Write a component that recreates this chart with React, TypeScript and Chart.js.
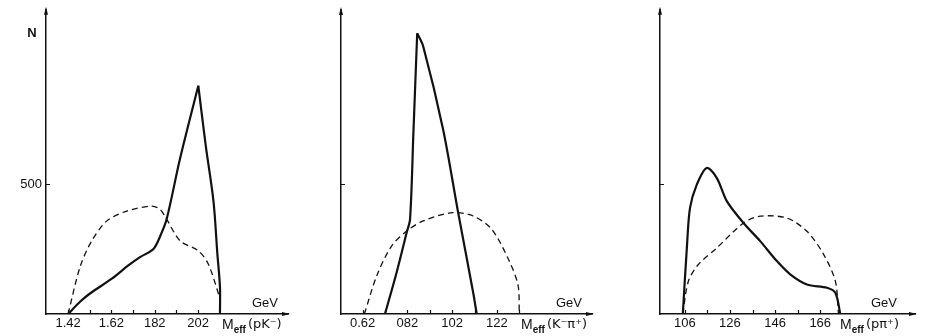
import React, { useEffect, useRef } from "react";
import { Chart, registerables } from "chart.js";
Chart.register(...registerables);

// ---------- Data ----------
// Panel 1: M_eff(pK-)
const PK_TICKS = [1.42, 1.52, 1.62, 1.72, 1.82, 1.92, 2.02];
const PK_TICK_LABELS = ["1.42", "", "1.62", "", "182", "", "202"];
const PK_SOLID_X = [1.42, 1.475, 1.521, 1.622, 1.698, 1.752, 1.814, 1.845, 1.875, 1.937, 2.021, 2.055, 2.091, 2.109, 2.121, 2.121];
const PK_SOLID_Y = [0, 47, 79, 136, 187, 219, 251, 300, 366, 600, 880, 651, 435, 232, 104, 0];
const PK_DASH_X = [1.42, 1.475, 1.529, 1.599, 1.691, 1.806, 1.845, 1.875, 1.937, 2.021, 2.067, 2.121];
const PK_DASH_Y = [0, 181, 282, 359, 397, 416, 403, 365, 282, 244, 193, 60];

// Panel 2: M_eff(K-pi+)
const KPI_TICKS = [0.62, 0.72, 0.82, 0.92, 1.02, 1.12, 1.22, 1.32];
const KPI_TICK_LABELS = ["0.62", "", "082", "", "102", "", "122", ""];
const KPI_SOLID_X = [0.72, 0.772, 0.817, 0.832, 0.847, 0.864, 0.891, 0.98, 1.047, 1.114, 1.13];
const KPI_SOLID_Y = [0, 160, 314, 365, 699, 1083, 1032, 711, 391, 83, 0];
const KPI_DASH_X = [0.628, 0.683, 0.75, 0.817, 0.891, 1.021, 1.114, 1.197, 1.278, 1.315, 1.32];
const KPI_DASH_Y = [0, 147, 263, 320, 359, 391, 378, 327, 199, 109, 0];

// Panel 3: M_eff(p pi+)
const PPI_TICKS = [1.06, 1.16, 1.26, 1.36, 1.46, 1.56, 1.66];
const PPI_TICK_LABELS = ["106", "", "126", "", "146", "", "166"];
const PPI_SOLID_X = [1.051, 1.069, 1.083, 1.113, 1.157, 1.202, 1.246, 1.32, 1.394, 1.468, 1.527, 1.601, 1.69, 1.727, 1.749];
const PPI_SOLID_Y = [0, 255, 409, 499, 563, 524, 435, 351, 281, 204, 153, 114, 101, 82, 0];
const PPI_DASH_X = [1.051, 1.076, 1.12, 1.202, 1.32, 1.394, 1.512, 1.601, 1.675, 1.727, 1.741];
const PPI_DASH_Y = [0, 127, 191, 255, 351, 377, 370, 319, 230, 127, 0];

const Y_TICKS = [500];
const Y_MAX = 1165;

type PanelCfg = {
  left: number;
  width: number;
  padTop: number;
  padRight: number;
  yAxisWidth: number;
  xMin: number;
  xMax: number;
  ticks: number[];
  labels: string[];
  solidX: number[];
  solidY: number[];
  dashX: number[];
  dashY: number[];
  sharp: boolean;
  yLabel: boolean;
  showN: boolean;
  particles: string;
  gevX: number;
  mX: number;
};

const PANELS: PanelCfg[] = [
  {
    left: 0, width: 310, padTop: 9, padRight: 22, yAxisWidth: 46,
    xMin: 1.318, xMax: 2.435, ticks: PK_TICKS, labels: PK_TICK_LABELS,
    solidX: PK_SOLID_X, solidY: PK_SOLID_Y, dashX: PK_DASH_X, dashY: PK_DASH_Y,
    sharp: true, yLabel: true, showN: true, particles: "(pK\u207B)", gevX: 265, mX: 222,
  },
  {
    left: 310, width: 310, padTop: 12, padRight: 28, yAxisWidth: 31,
    xMin: 0.5235, xMax: 1.645, ticks: KPI_TICKS, labels: KPI_TICK_LABELS,
    solidX: KPI_SOLID_X, solidY: KPI_SOLID_Y, dashX: KPI_DASH_X, dashY: KPI_DASH_Y,
    sharp: true, yLabel: false, showN: false, particles: "(K\u207B\u03C0\u207A)", gevX: 259, mX: 211,
  },
  {
    left: 620, width: 309, padTop: 10, padRight: 14, yAxisWidth: 40,
    xMin: 0.95, xMax: 2.08, ticks: PPI_TICKS, labels: PPI_TICK_LABELS,
    solidX: PPI_SOLID_X, solidY: PPI_SOLID_Y, dashX: PPI_DASH_X, dashY: PPI_DASH_Y,
    sharp: false, yLabel: false, showN: false, particles: "(p\u03C0\u207A)", gevX: 264, mX: 220,
  },
];

const INK = "#111111";
const FONT = "'Liberation Sans', Arial, sans-serif";
const FONT_WIDE = "'DejaVu Sans', sans-serif";

function toPoints(xs: number[], ys: number[]) {
  return xs.map((x, i) => ({ x, y: ys[i] }));
}

function splitAtPeak(xs: number[], ys: number[], sharp: boolean) {
  const pts = toPoints(xs, ys);
  if (!sharp) return [pts];
  let k = 0;
  ys.forEach((v, i) => { if (v > ys[k]) k = i; });
  return [pts.slice(0, k + 1), pts.slice(k)];
}

function makeDecor(cfg: PanelCfg) {
  return {
    id: "decor",
    afterDraw(chart: any) {
      const { ctx, chartArea } = chart;
      const { left, right, top, bottom } = chartArea;
      const xs = chart.scales.x;
      const ys = chart.scales.y;
      ctx.save();
      ctx.fillStyle = INK;
      ctx.strokeStyle = INK;
      // inward tick marks on the x axis
      ctx.lineWidth = 1.2;
      ctx.beginPath();
      cfg.ticks.forEach((v) => {
        const px = Math.round(xs.getPixelForValue(v)) + 0.5;
        ctx.moveTo(px, bottom);
        ctx.lineTo(px, bottom - 4);
      });
      // inward tick marks on the y axis
      Y_TICKS.forEach((v) => {
        const py = Math.round(ys.getPixelForValue(v)) + 0.5;
        ctx.moveTo(left, py);
        ctx.lineTo(left + 4, py);
      });
      ctx.stroke();
      // y axis extension + arrow
      ctx.lineWidth = 1.3;
      ctx.beginPath();
      ctx.moveTo(left, top + 2);
      ctx.lineTo(left, top - 3);
      ctx.stroke();
      ctx.beginPath();
      ctx.moveTo(left, top - 5);
      ctx.lineTo(left - 2, top + 3);
      ctx.lineTo(left + 2, top + 3);
      ctx.closePath();
      ctx.fill();
      // x axis arrow
      ctx.beginPath();
      ctx.moveTo(right + 2, bottom);
      ctx.lineTo(right - 6, bottom - 2);
      ctx.lineTo(right - 6, bottom + 2);
      ctx.closePath();
      ctx.fill();
      // texts
      ctx.textBaseline = "alphabetic";
      if (cfg.showN) {
        ctx.font = `bold 13px ${FONT}`;
        ctx.textAlign = "center";
        ctx.fillText("N", 32, 37);
      }
      ctx.font = `13px ${FONT}`;
      ctx.textAlign = "center";
      ctx.fillText("GeV", cfg.gevX, 307);
      ctx.textAlign = "left";
      ctx.font = `14px ${FONT}`;
      let x = cfg.mX;
      ctx.fillText("M", x, 329);
      x += ctx.measureText("M").width;
      ctx.font = `bold 10px ${FONT}`;
      ctx.fillText("eff", x, 333);
      x += ctx.measureText("eff").width + 2;
      ctx.font = `13px ${FONT_WIDE}`;
      ctx.fillText(cfg.particles, x, 328);
      ctx.restore();
    },
  };
}

function Panel({ cfg }: { cfg: PanelCfg }) {
  const ref = useRef<HTMLCanvasElement | null>(null);
  useEffect(() => {
    if (!ref.current) return;
    const solidSegs = splitAtPeak(cfg.solidX, cfg.solidY, cfg.sharp);
    const datasets: any[] = solidSegs.map((seg) => ({
      data: seg,
      borderColor: INK,
      borderWidth: 2.2,
      pointRadius: 0,
      tension: 0.3,
      fill: false,
    }));
    datasets.push({
      data: toPoints(cfg.dashX, cfg.dashY),
      borderColor: INK,
      borderWidth: 1.3,
      borderDash: [6, 4],
      pointRadius: 0,
      tension: 0.3,
      fill: false,
    });
    const chart = new Chart(ref.current, {
      type: "line",
      data: { datasets },
      options: {
        animation: false,
        responsive: false,
        devicePixelRatio: 1,
        layout: { padding: { top: cfg.padTop, right: cfg.padRight, left: 0, bottom: 0 } },
        plugins: { legend: { display: false }, tooltip: { enabled: false } },
        scales: {
          x: {
            type: "linear",
            min: cfg.xMin,
            max: cfg.xMax,
            afterBuildTicks: (s: any) => { s.ticks = cfg.ticks.map((v) => ({ value: v })); },
            afterFit: (s: any) => { s.height = 22; },
            ticks: {
              autoSkip: false,
              maxRotation: 0,
              minRotation: 0,
              padding: 2,
              color: INK,
              font: { family: FONT, size: 13 },
              callback: (_v: any, i: number) => cfg.labels[i] ?? "",
            },
            grid: { display: true, drawOnChartArea: false, drawTicks: false },
            border: { display: true, color: INK, width: 1.5 },
          },
          y: {
            type: "linear",
            min: 0,
            max: Y_MAX,
            afterBuildTicks: (s: any) => { s.ticks = Y_TICKS.map((v) => ({ value: v })); },
            afterFit: (s: any) => { s.width = cfg.yAxisWidth; },
            ticks: {
              padding: 4,
              color: INK,
              font: { family: FONT, size: 13 },
              callback: (v: any) => (cfg.yLabel ? String(v) : ""),
            },
            grid: { display: true, drawOnChartArea: false, drawTicks: false },
            border: { display: true, color: INK, width: 1.5 },
          },
        },
      },
      plugins: [makeDecor(cfg)],
    } as any);
    return () => chart.destroy();
  }, [cfg]);
  return (
    <canvas
      ref={ref}
      width={cfg.width}
      height={336}
      style={{ position: "absolute", left: cfg.left, top: 0, width: cfg.width, height: 336 }}
    />
  );
}

export default function App() {
  return (
    <div style={{ position: "absolute", left: 0, top: 0, width: 929, height: 336, background: "#fff", overflow: "hidden" }}>
      {PANELS.map((p, i) => (
        <Panel key={i} cfg={p} />
      ))}
    </div>
  );
}
